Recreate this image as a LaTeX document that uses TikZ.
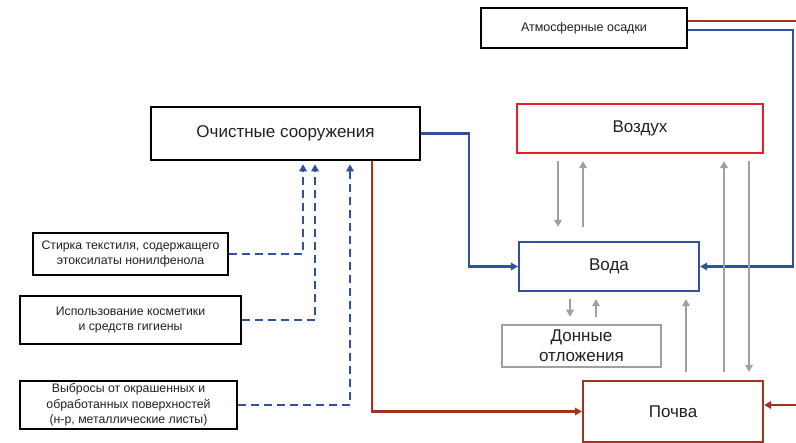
\documentclass[tikz,border=0pt]{standalone}
\usepackage{fontspec}
\setmainfont{Liberation Sans}
\usetikzlibrary{arrows.meta,calc}
\definecolor{cblue}{RGB}{50,80,160}
\definecolor{cred}{RGB}{235,30,40}
\definecolor{cbrown}{RGB}{165,50,30}
\definecolor{cgray}{RGB}{160,160,160}
\definecolor{ctext}{RGB}{35,31,32}
\begin{document}
\begin{tikzpicture}[x=1pt,y=-1pt,
  box/.style={draw, rectangle, inner sep=0pt, align=center, text=ctext,
    font=\fontsize{17}{20}\selectfont},
  smallbox/.style={box, line width=1.4pt, font=\fontsize{12.3}{15.5}\selectfont},
  tipa/.style={-{Triangle[length=7pt,width=7.5pt]}},
  blueline/.style={draw=cblue, line width=2.3pt},
  brownline/.style={draw=cbrown, line width=2.3pt},
  grayline/.style={draw=cgray, line width=2.3pt},
  dashline/.style={draw=cblue, line width=2.5pt, dash pattern=on 8pt off 5pt, tipa}
]
\useasboundingbox (0,0) rectangle (796,443);

% nodes
\node[box, line width=1.3pt, minimum width=206pt, minimum height=40pt,
  font=\fontsize{12.5}{15}\selectfont] (atm) at (584,28) {Атмосферные осадки};
\node[box, line width=2.6pt, minimum width=269pt, minimum height=53pt] (och) at (285.5,133.5) {Очистные сооружения};
\node[box, draw=cred, line width=2.2pt, minimum width=246pt, minimum height=49pt] (vozd) at (640,128.5) {Воздух};
\node[box, draw=cblue, line width=2.2pt, minimum width=180pt, minimum height=49pt] (voda) at (609,266.5) {Вода};
\node[box, draw=cgray, line width=2.6pt, minimum width=159pt, minimum height=42pt] (donn) at (581.5,346) {Донные\\отложения};
\node[box, draw=cbrown, line width=2.2pt, minimum width=180pt, minimum height=61pt] (poch) at (673,411.5) {Почва};

\node[smallbox, minimum width=195pt, minimum height=42pt] (s1) at (130.5,254) {Стирка текстиля, содержащего\\этоксилаты нонилфенола};
\node[smallbox, minimum width=221pt, minimum height=48pt] (s2) at (130.5,320) {Использование косметики\\и средств гигиены};
\node[smallbox, minimum width=217pt, minimum height=48pt] (s3) at (128.5,405) {Выбросы от окрашенных и\\обработанных поверхностей\\(н-р, металлические листы)};

% free ends at the right border
\coordinate (redend) at (797,21);
\coordinate (bluecorner) at (793,30);
\coordinate (brownend) at (797,405);

% atmosphere connectors
\draw[brownline] (redend -| atm.east) -- (redend);
\draw[blueline, tipa] (bluecorner -| atm.east) -- (bluecorner) |- (voda.east);

% treatment plant connectors
\draw[blueline, tipa] (och.east) -- ++(48,0) |- (voda.west);
\draw[brownline, tipa] (och.south -| 372,0) |- (poch.west);
\draw[brownline, tipa] (brownend) -- (brownend -| poch.east);

% dashed sources
\draw[dashline, shorten >=3pt] (s1.east) -| (och.south -| 303,0);
\draw[dashline, shorten >=3pt] (s2.east) -| (och.south -| 315,0);
\draw[dashline, shorten >=3pt] (s3.east) -| (och.south -| 350,0);

% gray exchanges
\draw[grayline, tipa, shorten <=7pt, shorten >=14pt] (vozd.south -| 558,0) -- (voda.north -| 558,0);
\draw[grayline, tipa, shorten <=14pt, shorten >=7pt] (voda.north -| 583,0) -- (vozd.south -| 583,0);
\draw[grayline, tipa, shorten <=7pt, shorten >=7pt] (voda.south -| 570,0) -- (donn.north -| 570,0);
\draw[grayline, tipa, shorten <=7pt, shorten >=7pt] (donn.north -| 596,0) -- (voda.south -| 596,0);
\draw[grayline, tipa, shorten <=8pt, shorten >=7pt] (poch.north -| 686,0) -- (voda.south -| 686,0);
\draw[grayline, tipa, shorten <=8pt, shorten >=7pt] (poch.north -| 724,0) -- (vozd.south -| 724,0);
\draw[grayline, tipa, shorten <=7pt, shorten >=8pt] (vozd.south -| 749,0) -- (poch.north -| 749,0);
\end{tikzpicture}
\end{document}
